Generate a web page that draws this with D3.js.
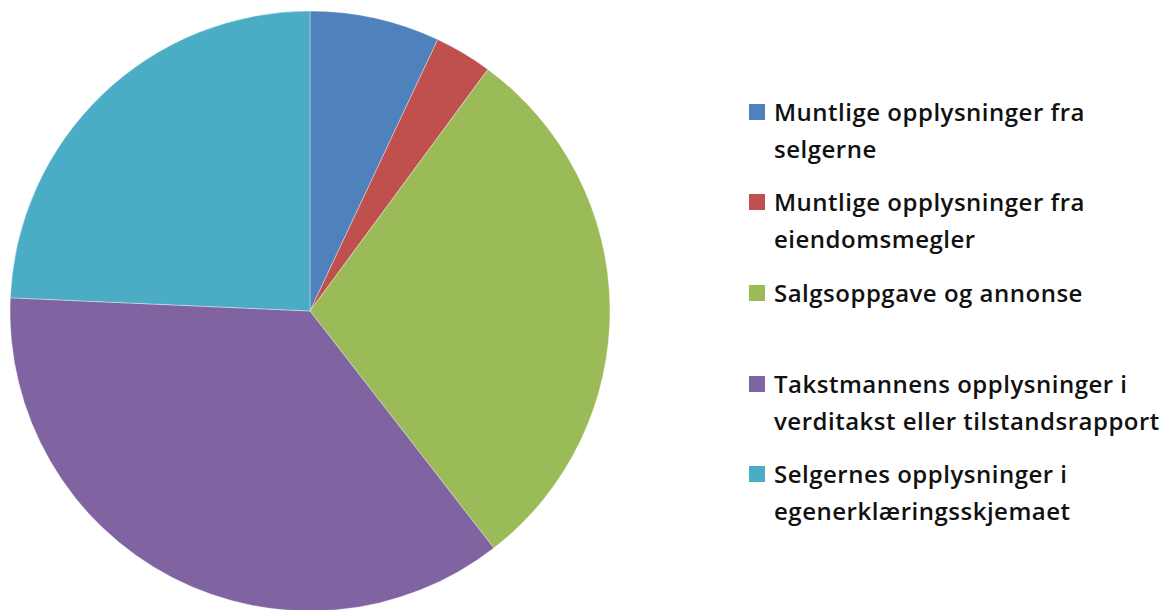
<!DOCTYPE html>
<html>
<head>
<meta charset="utf-8">
<script src="https://cdn.jsdelivr.net/npm/d3@7"></script>
<style>
  body { margin: 0; background: #fff; }
  text { font-family: "Open Sans", "Noto Sans", sans-serif; }
</style>
</head>
<body>
<div id="chart"></div>
<script>
// categories and shares (percent)
var categories = [
  'Muntlige opplysninger fra selgerne',
  'Muntlige opplysninger fra eiendomsmegler',
  'Salgsoppgave og annonse',
  'Takstmannens opplysninger i verditakst eller tilstandsrapport',
  'Selgernes opplysninger i egenerklæringsskjemaet'
]
var values = [7.0, 3.1, 29.4, 36.2, 24.3]
// legend text, wrapped as in the picture
var legendLines = [
  ['Muntlige opplysninger fra', 'selgerne'],
  ['Muntlige opplysninger fra', 'eiendomsmegler'],
  ['Salgsoppgave og annonse'],
  ['Takstmannens opplysninger i', 'verditakst eller tilstandsrapport'],
  ['Selgernes opplysninger i', 'egenerklæringsskjemaet']
]
var colours = ['#4F81BD', '#C0504D', '#9BBB59', '#8064A2', '#4BACC6']

var width = 1168
var height = 610

var svg = d3.select('#chart')
  .append('svg')
  .attr('width', width)
  .attr('height', height)

var colour = d3.scaleOrdinal().domain(categories).range(colours)

var data = categories.map(function (c, i) {
  return { name: c, value: values[i], lines: legendLines[i] }
})

// pie, clockwise from 12 o'clock, no sorting
var pie = d3.pie()
  .sort(null)
  .value(function (d) { return d.value })

var radius = 300
var arc = d3.arc().innerRadius(0).outerRadius(radius)

var g = svg.append('g')
  .attr('transform', 'translate(310,311)')

g.selectAll('path')
  .data(pie(data))
  .enter()
  .append('path')
  .attr('d', arc)
  .style('fill', function (d) { return colour(d.data.name) })
  .attr('stroke', '#fff')
  .attr('stroke-width', 0.6)
  .attr('stroke-opacity', 0.6)

// legend: first-line baselines of each entry
var legendY = [121, 211, 302, 393, 483]
var lineGap = 36.5

var legend = svg.selectAll('.legend')
  .data(data)
  .enter().append('g')
  .attr('class', 'legend')
  .attr('transform', function (d, i) { return 'translate(749,' + legendY[i] + ')' })

legend.append('rect')
  .attr('x', 0)
  .attr('y', -17)
  .attr('width', 16)
  .attr('height', 16)
  .style('fill', function (d) { return colour(d.name) })

legend.append('text')
  .attr('font-size', '24px')
  .attr('font-weight', 600)
  .attr('letter-spacing', '0.5px')
  .attr('fill', '#111')
  .selectAll('tspan')
  .data(function (d) { return d.lines })
  .enter()
  .append('tspan')
  .attr('x', 25)
  .attr('y', function (d, i) { return i * lineGap })
  .text(function (d) { return d })
</script>
</body>
</html>
